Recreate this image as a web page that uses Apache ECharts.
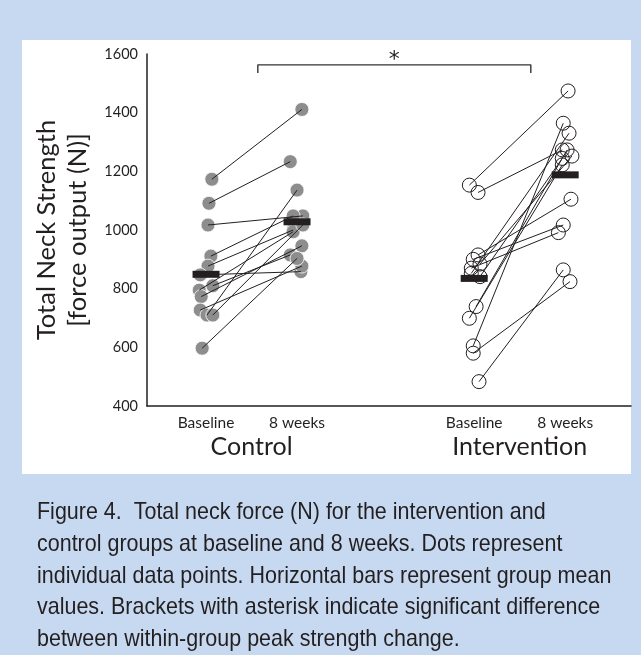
<!DOCTYPE html>
<html>
<head>
<meta charset="utf-8">
<script src="https://cdn.jsdelivr.net/npm/echarts@6/dist/echarts.min.js"></script>
<style>
html,body{margin:0;padding:0;background:#c6d9f0;}
#chart{width:641px;height:655px;}
</style>
</head>
<body>
<div id="chart"></div>
<script>
// ---- data ----
const timepointLabels = ['Baseline', '8 weeks', 'Baseline', '8 weeks'];
const timepointX = [12.2, 31, 67.6, 86.4];
const groupLabels = ['Control', 'Intervention'];
const yTicks = [400, 600, 800, 1000, 1200, 1400, 1600];

// Control group (paired by participant)
const controlBaseline = [1173, 1091, 1017, 911, 877, 847, 810, 795, 773, 727, 710, 710, 597];
const control8wk      = [1411, 1233, 1048, 1048, 1000, 858, 915, 994, 946, 877, 1136, 1017, 903];
const controlBaselineJitter = [1.2, 0.6, 0.4, 1, 0.4, -1.2, 1.4, -1.4, -1, -1.2, 0.2, 1.4, -0.8];
const control8wkJitter      = [1, -1.4, 1.2, -0.8, -0.8, 0.8, -1.4, -0.8, 1, 1, 0, 1.2, 0];

// Intervention group (paired by participant)
const interventionBaseline = [1153, 1128, 915, 900, 884, 870, 852, 841, 739, 699, 605, 580, 483];
const intervention8wk      = [1474, 1273, 1105, 1017, 1252, 991, 1330, 1244, 1273, 1222, 1364, 824, 864];
const interventionBaselineJitter = [-1, 0.8, 0.8, -0.2, 1.2, -0.6, -0.6, 1.2, 0.4, -1, -0.2, -0.2, 1];
const intervention8wkJitter      = [0.6, -0.6, 1.2, -0.4, 1.4, -1.4, 0.8, -0.6, 0.4, -0.6, -0.4, 1, -0.4];

// Group means (horizontal bars)
const controlMeans = [849, 1028];
const interventionMeans = [835, 1188];

// Significance bracket
const bracketX = [22.9, 79.3];
const bracketY = [1535, 1563];
const asteriskY = 1578;

const caption = [
  'Figure 4.  Total neck force (N) for the intervention and',
  'control groups at baseline and 8 weeks. Dots represent',
  'individual data points. Horizontal bars represent group mean',
  'values. Brackets with asterisk indicate significant difference',
  'between within-group peak strength change.'
];

// ---- build series ----
function pts(vals, jit, xi) { return vals.map((v, i) => [timepointX[xi] + jit[i], v]); }
function pairs(b, bj, w, wj, xb, xw) {
  return b.map((v, i) => ({ coords: [[timepointX[xb] + bj[i], v], [timepointX[xw] + wj[i], w[i]]] }));
}

const dark = '#231f20';
const axisFont = 'Lato, "Open Sans", sans-serif';

const chart = echarts.init(document.getElementById('chart'), null, { renderer: 'canvas' });
chart.setOption({
  backgroundColor: '#c6d9f0',
  animation: false,
  graphic: [
    { type: 'rect', z: -10, shape: { x: 22, y: 40, width: 609, height: 434 }, style: { fill: '#ffffff' } },
    { type: 'text', x: 37, y: 497, scaleX: 0.895, z: 10,
      style: { text: caption.join('\n'), fill: dark, font: '24px "Liberation Sans", Arial, sans-serif',
               lineHeight: 31.6, verticalAlign: 'top', align: 'left' } }
  ],
  grid: { left: 147, right: 10, top: 54, bottom: 249, containLabel: false },
  xAxis: [
    {
      type: 'value', min: 0, max: 100,
      axisLine: { show: true, lineStyle: { color: dark, width: 1.5 } },
      axisTick: { show: false },
      splitLine: { show: false },
      axisLabel: {
        customValues: timepointX,
        formatter: (v) => timepointLabels[timepointX.indexOf(v)],
        color: dark, fontFamily: axisFont, fontSize: 15.5, margin: 9
      }
    },
    {
      type: 'value', min: 0, max: 100, position: 'bottom',
      axisLine: { show: false }, axisTick: { show: false }, splitLine: { show: false },
      axisLabel: {
        customValues: [(timepointX[0] + timepointX[1]) / 2, (timepointX[2] + timepointX[3]) / 2],
        formatter: (v) => v < 50 ? groupLabels[0] : groupLabels[1],
        color: dark, fontFamily: axisFont, fontSize: 25, margin: 28
      }
    }
  ],
  yAxis: {
    type: 'value', min: 400, max: 1600, interval: 200,
    axisLine: { show: true, lineStyle: { color: dark, width: 1.5 } },
    axisTick: { show: false },
    splitLine: { show: false },
    axisLabel: { color: dark, fontFamily: axisFont, fontSize: 14.5, margin: 9,
      formatter: (v) => yTicks.includes(v) ? String(v) : '' },
    name: 'Total Neck Strength\n[force output (N)]',
    nameLocation: 'middle', nameRotate: 90, nameGap: 52,
    nameTextStyle: { color: dark, fontFamily: axisFont, fontSize: 25.5, lineHeight: 31 }
  },
  series: [
    {
      type: 'scatter', name: 'Control', z: 2,
      data: pts(controlBaseline, controlBaselineJitter, 0).concat(pts(control8wk, control8wkJitter, 1)),
      symbol: 'circle', symbolSize: 14,
      itemStyle: { color: '#8d8d8d', borderColor: '#ffffff', borderWidth: 0.8, opacity: 1 }
    },
    {
      type: 'scatter', name: 'Intervention', z: 2,
      data: pts(interventionBaseline, interventionBaselineJitter, 2).concat(pts(intervention8wk, intervention8wkJitter, 3)),
      symbol: 'circle', symbolSize: 14,
      itemStyle: { color: 'rgba(255,255,255,0)', borderColor: dark, borderWidth: 1, opacity: 1 }
    },
    {
      type: 'scatter', name: 'Means', z: 3,
      data: [[timepointX[0], controlMeans[0]], [timepointX[1], controlMeans[1]],
             [timepointX[2], interventionMeans[0]], [timepointX[3], interventionMeans[1]]],
      symbol: 'rect', symbolSize: [27, 7],
      itemStyle: { color: dark, opacity: 1 }
    },
    {
      type: 'lines', coordinateSystem: 'cartesian2d', z: 4,
      data: pairs(controlBaseline, controlBaselineJitter, control8wk, control8wkJitter, 0, 1)
        .concat(pairs(interventionBaseline, interventionBaselineJitter, intervention8wk, intervention8wkJitter, 2, 3)),
      lineStyle: { color: dark, width: 1, opacity: 1 }
    },
    {
      type: 'line', z: 4, symbol: 'none',
      data: [[bracketX[0], bracketY[0]], [bracketX[0], bracketY[1]], [bracketX[1], bracketY[1]], [bracketX[1], bracketY[0]]],
      lineStyle: { color: '#333333', width: 1.4 }
    },
    {
      type: 'scatter', z: 5, symbolSize: 2, silent: true,
      itemStyle: { color: 'rgba(0,0,0,0)', opacity: 1 },
      data: [[(bracketX[0] + bracketX[1]) / 2, asteriskY]],
      label: { show: true, position: 'inside', formatter: '*', color: dark, fontSize: 22, fontFamily: '"DejaVu Sans", sans-serif' }
    }
  ]
});
</script>
</body>
</html>
